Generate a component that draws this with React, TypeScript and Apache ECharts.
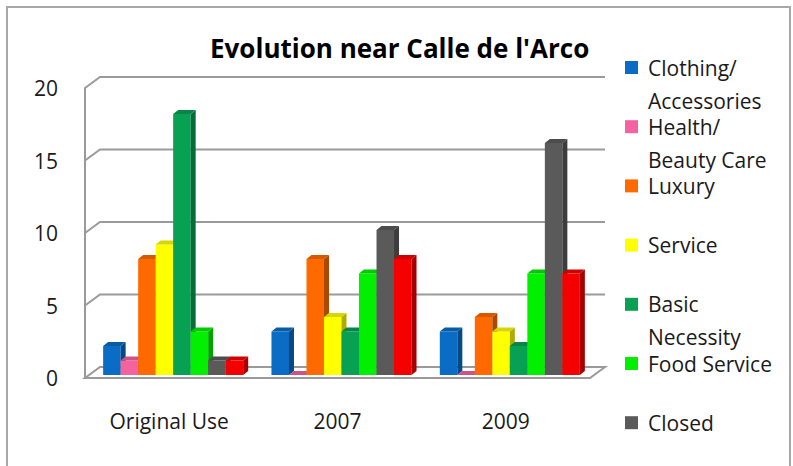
import React, { useEffect, useRef } from "react";
import * as echarts from "echarts";

// Periods on the horizontal axis
const categories = ["Original Use", "2007", "2009"];

// Shop counts per use, one array per series (same order as categories)
const clothing = [2, 3, 3];
const health = [1, 0, 0];
const luxury = [8, 8, 4];
const service = [9, 4, 3];
const basic = [18, 3, 2];
const food = [3, 7, 7];
const closed = [1, 10, 16];
const other = [1, 8, 7];

// Value axis ticks
const yTicks = [0, 5, 10, 15, 20];

const seriesNames = [
  "Clothing/\nAccessories",
  "Health/\nBeauty Care",
  "Luxury",
  "Service",
  "Basic\nNecessity",
  "Food Service",
  "Closed",
  "Other",
];
const seriesValues = [clothing, health, luxury, service, basic, food, closed, other];
const seriesColors = [
  "#0a6cc4",
  "#f4639f",
  "#ff6a00",
  "#ffff00",
  "#08a052",
  "#00f000",
  "#5a5a5a",
  "#f50000",
];
// Only the first seven uses are listed in the legend
const legendNames = seriesNames.slice(0, 7);

// 3D look: offset of the back wall and of each column's depth
const WALL_DX = 15;
const WALL_DY = 11;
const BAR_DX = 5;
const BAR_DY = 4;
const BAR_SHIFT_X = 4;
const BAR_LIFT = 3;
const GROUP_RATIO = 0.832;

const FONT = "'Open Sans', 'Noto Sans', sans-serif";

function shade(hex: string, k: number): string {
  const n = parseInt(hex.slice(1), 16);
  const r = Math.round(((n >> 16) & 255) * k);
  const g = Math.round(((n >> 8) & 255) * k);
  const b = Math.round((n & 255) * k);
  return `rgb(${r},${g},${b})`;
}

export default function App() {
  const ref = useRef<HTMLDivElement>(null);

  useEffect(() => {
    if (!ref.current) return;
    const chart = echarts.init(ref.current, undefined, { renderer: "svg" });
    const n = seriesNames.length;

    const wallSeries: any = {
      type: "custom",
      z: 1,
      silent: true,
      data: yTicks.map((v) => [0, v]),
      encode: { x: 0, y: 1 },
      renderItem: (params: any, api: any) => {
        const v = api.value(1);
        const cs = params.coordSys;
        const left = cs.x;
        const right = cs.x + cs.width;
        const y = api.coord([0, v])[1];
        if (v === 0) {
          return {
            type: "polygon",
            shape: {
              points: [
                [left, y],
                [right, y],
                [right + WALL_DX, y - WALL_DY],
                [left + WALL_DX, y - WALL_DY],
              ],
            },
            style: { fill: "#ffffff", stroke: "#9a9a9a", lineWidth: 2 },
          };
        }
        return {
          type: "polyline",
          shape: {
            points: [
              [left, y],
              [left + WALL_DX, y - WALL_DY],
              [right + WALL_DX, y - WALL_DY],
            ],
          },
          style: { stroke: "#9a9a9a", lineWidth: 2, fill: null },
        };
      },
    };

    const barSeries = seriesNames.map((name, si) => ({
      type: "custom",
      name,
      z: 2 + si,
      itemStyle: { color: seriesColors[si] },
      data: seriesValues[si].map((v, i) => [i, v]),
      encode: { x: 0, y: 1 },
      renderItem: (params: any, api: any) => {
        const cat = api.value(0);
        const val = api.value(1);
        const base = api.coord([cat, 0]);
        const topPt = api.coord([cat, val]);
        const band = api.size([1, 0])[0];
        const group = band * GROUP_RATIO;
        const w = group / n;
        const x = base[0] - group / 2 + si * w + BAR_SHIFT_X;
        const bottom = base[1] - BAR_LIFT;
        const top = topPt[1] - BAR_LIFT;
        const c = seriesColors[si];
        return {
          type: "group",
          children: [
            {
              type: "rect",
              shape: { x, y: top, width: w, height: bottom - top },
              style: { fill: c },
            },
            {
              type: "polygon",
              shape: {
                points: [
                  [x + w, top],
                  [x + w + BAR_DX, top - BAR_DY],
                  [x + w + BAR_DX, bottom - BAR_DY],
                  [x + w, bottom],
                ],
              },
              style: { fill: shade(c, 0.68) },
            },
            {
              type: "polygon",
              shape: {
                points: [
                  [x, top],
                  [x + BAR_DX, top - BAR_DY],
                  [x + w + BAR_DX, top - BAR_DY],
                  [x + w, top],
                ],
              },
              style: { fill: shade(c, 0.84) },
            },
          ],
        };
      },
    }));

    chart.setOption({
      animation: false,
      backgroundColor: "#ffffff",
      title: {
        text: "Evolution near Calle de l'Arco",
        left: 205,
        top: 30,
        textStyle: {
          fontFamily: FONT,
          fontSize: 26,
          fontWeight: "bold",
          color: "#000000",
        },
      },
      legend: {
        data: legendNames,
        orient: "vertical",
        left: 625,
        top: 18,
        height: 700,
        padding: 0,
        itemGap: -39.8,
        itemWidth: 13,
        itemHeight: 13,
        icon: "rect",
        selectedMode: false,
        formatter: (name: string) =>
          "\n" + name + (name.indexOf("\n") >= 0 ? "" : "\n"),
        textStyle: {
          fontFamily: FONT,
          fontSize: 21,
          lineHeight: 33,
          color: "#1a1a1a",
          padding: [0, 0, 0, 5],
        },
      },
      grid: { left: 85, top: 88, width: 505, height: 290 },
      xAxis: {
        type: "category",
        data: categories,
        axisLine: { show: false },
        axisTick: { show: false },
        splitLine: { show: false },
        axisLabel: {
          margin: 32,
          fontFamily: FONT,
          fontSize: 21,
          color: "#1a1a1a",
        },
      },
      yAxis: {
        type: "value",
        min: 0,
        max: 20,
        interval: 5,
        axisLine: { show: true, lineStyle: { color: "#9a9a9a", width: 2 } },
        axisTick: { show: false },
        splitLine: { show: false },
        axisLabel: {
          margin: 27,
          fontFamily: FONT,
          fontSize: 21,
          color: "#1a1a1a",
        },
      },
      graphic: [
        {
          type: "rect",
          shape: { x: 7, y: 7, width: 783, height: 475 },
          style: { fill: null, stroke: "#a8a8a8", lineWidth: 2 },
          silent: true,
          z: -1,
        },
      ],
      series: [wallSeries, ...barSeries],
    });

    return () => chart.dispose();
  }, []);

  return (
    <div
      ref={ref}
      style={{ position: "fixed", left: 0, top: 0, width: 793, height: 466 }}
    />
  );
}
